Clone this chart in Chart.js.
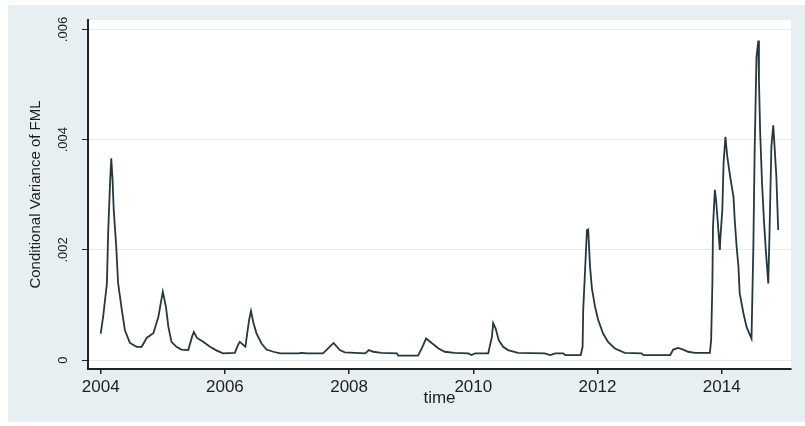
<!DOCTYPE html>
<html>
<head>
<meta charset="utf-8">
<script src="https://cdn.jsdelivr.net/npm/chart.js@4"></script>
<style>
  body { margin: 0; background: #fff; }
</style>
</head>
<body>
<canvas id="grafica" width="805" height="426"></canvas>
<script>
// time in decimal years, conditional variance
const time = [
  2004.00, 2004.04, 2004.10, 2004.12, 2004.15, 2004.17, 2004.19, 2004.21, 2004.25, 2004.28,
  2004.34, 2004.39, 2004.47, 2004.58, 2004.66, 2004.74, 2004.85, 2004.93, 2005.00, 2005.05,
  2005.09, 2005.14, 2005.22, 2005.30, 2005.41, 2005.47, 2005.50, 2005.55, 2005.65, 2005.76,
  2005.87, 2005.97, 2006.16, 2006.21, 2006.24, 2006.30, 2006.33, 2006.37, 2006.39, 2006.42,
  2006.46, 2006.51, 2006.59, 2006.67, 2006.78, 2006.89, 2007.18, 2007.24, 2007.32, 2007.58,
  2007.75, 2007.85, 2007.93, 2008.26, 2008.32, 2008.39, 2008.52, 2008.77, 2008.79, 2009.11,
  2009.17, 2009.24, 2009.33, 2009.44, 2009.54, 2009.70, 2009.92, 2009.97, 2010.03, 2010.24,
  2010.30, 2010.32, 2010.36, 2010.41, 2010.48, 2010.56, 2010.72, 2011.15, 2011.24, 2011.32,
  2011.45, 2011.48, 2011.73, 2011.76, 2011.77, 2011.80, 2011.83, 2011.85, 2011.88, 2011.91,
  2011.96, 2012.01, 2012.09, 2012.17, 2012.28, 2012.44, 2012.71, 2012.74, 2013.17, 2013.22,
  2013.30, 2013.38, 2013.46, 2013.57, 2013.81, 2013.83, 2013.85, 2013.86, 2013.89, 2013.91,
  2013.93, 2013.97, 2013.98, 2014.01, 2014.03, 2014.06, 2014.09, 2014.14, 2014.19, 2014.21,
  2014.24, 2014.27, 2014.29, 2014.35, 2014.40, 2014.48, 2014.51, 2014.53, 2014.56, 2014.59,
  2014.60, 2014.62, 2014.65, 2014.68, 2014.71, 2014.75, 2014.77, 2014.80, 2014.83, 2014.85,
  2014.88, 2014.91
];
const variance = [
  0.00048, 0.00079, 0.00139, 0.0023, 0.0032, 0.00366, 0.0033, 0.00272, 0.00206, 0.0014,
  0.00091, 0.00054, 0.00031, 0.00024, 0.00024, 0.0004, 0.00049, 0.00079, 0.00124, 0.00097,
  0.0006, 0.00033, 0.00024, 0.00019, 0.00018, 0.00042, 0.00051, 0.0004, 0.00033, 0.00024,
  0.00017, 0.00012, 0.00013, 0.00027, 0.00033, 0.00027, 0.00024, 0.00057, 0.00073, 0.00089,
  0.00067, 0.00048, 0.0003, 0.00019, 0.00015, 0.00012, 0.00012, 0.00013, 0.00012, 0.00012,
  0.00031, 0.00018, 0.00014, 0.00012, 0.00018, 0.00015, 0.00013, 0.00012, 0.00008, 0.00008,
  0.00021, 0.00039, 0.00031, 0.00021, 0.00015, 0.00013, 0.00012, 0.00009, 0.00012, 0.00012,
  0.00042, 0.00067, 0.00057, 0.00036, 0.00024, 0.00018, 0.00013, 0.00012, 0.00009, 0.00012,
  0.00012, 0.00009, 0.00009, 0.00024, 0.00091, 0.00163, 0.00236, 0.00237, 0.00169, 0.0013,
  0.00097, 0.00073, 0.00048, 0.00033, 0.00021, 0.00013, 0.00012, 0.00009, 0.00009, 0.00019,
  0.00022, 0.00019, 0.00015, 0.00013, 0.00013, 0.00036, 0.00139, 0.00242, 0.00309, 0.0029,
  0.0026, 0.002, 0.00224, 0.00272, 0.00357, 0.00405, 0.00369, 0.0033, 0.00296, 0.00254,
  0.00206, 0.00169, 0.00121, 0.00085, 0.0006, 0.00039, 0.00206, 0.00375, 0.0055, 0.0058,
  0.00508, 0.00411, 0.0032, 0.00254, 0.002, 0.00139, 0.0023, 0.00387, 0.00426, 0.0039,
  0.00333, 0.00236
];
const xTicks = [2004, 2006, 2008, 2010, 2012, 2014];
const yTicks = [0, 0.002, 0.004, 0.006];

const fondo = {
  id: 'fondo',
  beforeDraw(chart) {
    const {ctx, chartArea} = chart;
    ctx.save();
    ctx.fillStyle = '#ffffff';
    ctx.fillRect(0, 0, chart.width, chart.height);
    ctx.fillStyle = '#e8eff2';
    ctx.fillRect(8, 5, chart.width - 8, chart.height - 9);
    ctx.fillStyle = '#ffffff';
    ctx.fillRect(chartArea.left, chartArea.top, chartArea.right - chartArea.left, chartArea.bottom - chartArea.top);
    ctx.restore();
  }
};

new Chart(document.getElementById('grafica'), {
  type: 'line',
  data: {
    datasets: [{
      label: 'Conditional Variance of FML',
      data: time.map((t, i) => ({ x: t, y: variance[i] })),
      borderColor: '#28363f',
      borderWidth: 1.8,
      pointRadius: 0,
      tension: 0,
      fill: false
    }]
  },
  options: {
    responsive: false,
    animation: false,
    devicePixelRatio: 1,
    layout: { padding: { left: 0, top: 20, right: 14, bottom: 0 } },
    plugins: { legend: { display: false }, tooltip: { enabled: false } },
    scales: {
      x: {
        type: 'linear',
        min: 2003.7955,
        max: 2015.116,
        afterBuildTicks: axis => { axis.ticks = xTicks.map(v => ({ value: v })); },
        afterFit: scale => { scale.height = 57; },
        ticks: {
          callback: v => String(v),
          color: '#1e1e1e',
          font: { family: 'Liberation Sans, Arial, sans-serif', size: 17 },
          padding: 3,
          maxRotation: 0,
          autoSkip: false
        },
        grid: { drawOnChartArea: false, drawTicks: true, tickLength: 5, tickColor: '#222', lineWidth: 1.5 },
        border: { display: true, color: '#222', width: 2 },
        title: {
          display: true,
          text: 'time',
          color: '#1e1e1e',
          font: { family: 'Liberation Sans, Arial, sans-serif', size: 17 },
          padding: { top: 0, bottom: 17 }
        }
      },
      y: {
        type: 'linear',
        min: -0.000163,
        max: 0.006172,
        afterBuildTicks: axis => { axis.ticks = yTicks.map(v => ({ value: v })); },
        afterFit: scale => { scale.width = 88; },
        ticks: {
          callback: v => v === 0 ? '0' : v.toFixed(3).replace(/^0/, ''),
          color: '#1e1e1e',
          font: { family: 'Liberation Sans, Arial, sans-serif', size: 13 },
          minRotation: 90,
          maxRotation: 90,
          crossAlign: 'center',
          padding: 6,
          autoSkip: false
        },
        grid: { color: '#e4eaed', lineWidth: 1, drawTicks: true, tickLength: 6, tickColor: '#222' },
        border: { display: true, color: '#222', width: 2 },
        title: {
          display: true,
          text: 'Conditional Variance of FML',
          color: '#1e1e1e',
          font: { family: 'Liberation Sans, Arial, sans-serif', size: 15 },
          padding: { top: 27, bottom: 0 }
        }
      }
    }
  },
  plugins: [fondo]
});
</script>
</body>
</html>
